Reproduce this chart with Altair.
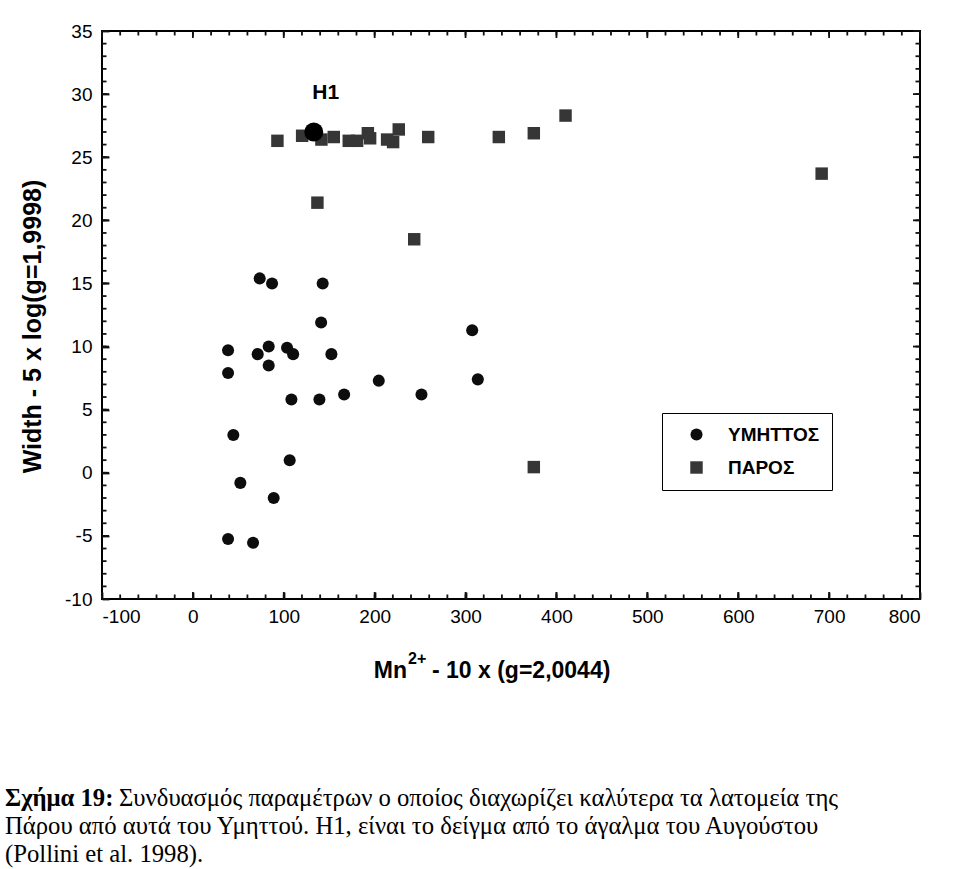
import altair as alt
import pandas as pd

# ---- data ----
ymittos_x = [73.5, 87.1, 142.8, 141.1, 307.3, 38.7, 71.3, 83.4, 103.6, 110.3, 152.4, 83.4, 38.7,
             204.5, 313.5, 108.4, 139.2, 166.4, 251.5, 44.5, 106.5, 52.2, 88.9, 38.7, 66.2]
ymittos_y = [15.4, 15.0, 15.0, 11.9, 11.3, 9.7, 9.4, 10.0, 9.9, 9.4, 9.4, 8.5, 7.9,
             7.3, 7.4, 5.8, 5.8, 6.2, 6.2, 3.0, 1.0, -0.8, -2.0, -5.25, -5.55]
paros_x = [93.0, 120.2, 141.4, 155.0, 171.5, 180.7, 192.5, 195.0, 213.7, 220.3, 226.5, 258.9,
           137.0, 243.5, 336.6, 375.1, 410.0, 691.8, 375.1]
paros_y = [26.3, 26.7, 26.4, 26.6, 26.3, 26.3, 26.9, 26.5, 26.4, 26.2, 27.2, 26.6,
           21.4, 18.5, 26.6, 26.9, 28.3, 23.7, 0.45]
h1_x = [133.0]
h1_y = [27.0]
h1_label = ["H1"]

groups = ["ΥΜΗΤΤΟΣ", "ΠΑΡΟΣ"]

x_major = [-100, 0, 100, 200, 300, 400, 500, 600, 700, 800]
x_minor = list(range(-100, 801, 20))
y_major = [-10, -5, 0, 5, 10, 15, 20, 25, 30, 35]
y_minor = list(range(-10, 36, 1))

x_title_base = ["Mn"]
x_title_sup = ["2+"]
x_title_rest = ["- 10 x (g=2,0044)"]
y_title = "Width - 5 x log(g=1,9998)"

caption_bold = ["Σχήμα 19:"]
caption_line1 = ["Συνδυασμός παραμέτρων ο οποίος διαχωρίζει καλύτερα τα λατομεία της"]
caption_line2 = ["Πάρου από αυτά του Υμηττού. Η1, είναι το δείγμα από το άγαλμα του Αυγούστου"]
caption_line3 = ["(Pollini et al. 1998)."]

# ---- tables ----
pts = pd.DataFrame({
    "x": ymittos_x + paros_x,
    "y": ymittos_y + paros_y,
    "group": [groups[0]] * len(ymittos_x) + [groups[1]] * len(paros_x),
})
h1 = pd.DataFrame({"x": h1_x, "y": h1_y, "label": h1_label})
xmaj = pd.DataFrame({"x": x_major})
xmin = pd.DataFrame({"x": x_minor})
ymaj = pd.DataFrame({"y": y_major})
ymin = pd.DataFrame({"y": y_minor})

W, H = 818, 568
SANS = "Liberation Sans"
SERIF = "Liberation Serif"
MAJ, MIN = 7, 4.5

xs = alt.Scale(domain=[-100, 800], nice=False, zero=False)
ys = alt.Scale(domain=[-10, 35], nice=False, zero=False)
fix_minus = "replace(datum.label, '\u2212', '-')"


def xticks(df, top, length):
    y0 = 0 if top else H
    y1 = length if top else H - length
    return alt.Chart(df).mark_rule(color="#111111", strokeWidth=1.8).encode(
        x=alt.X("x:Q", scale=xs), y=alt.value(y0), y2=alt.value(y1))


def yticks(df, right, length):
    x0 = W if right else 0
    x1 = W - length if right else length
    return alt.Chart(df).mark_rule(color="#111111", strokeWidth=1.8).encode(
        y=alt.Y("y:Q", scale=ys), x=alt.value(x0), x2=alt.value(x1))


ticks = [
    xticks(xmaj, False, MAJ), xticks(xmin, False, MIN),
    xticks(xmaj, True, MAJ), xticks(xmin, True, MIN),
    yticks(ymaj, False, MAJ), yticks(ymin, False, MIN),
    yticks(ymaj, True, MAJ), yticks(ymin, True, MIN),
]

# main axes: labels outside, major ticks drawn inward (axis shifted inside by the tick length)
points = alt.Chart(pts).mark_point(filled=True, opacity=1).encode(
    x=alt.X("x:Q", scale=xs, axis=alt.Axis(
        orient="bottom", values=x_major, ticks=True, tickSize=MAJ, tickWidth=1.8,
        tickColor="#111111", offset=-MAJ, domain=False, grid=False,
        labelFont=SANS, labelFontSize=19, labelColor="#000", labelPadding=8,
        labelExpr=fix_minus, title=None)),
    y=alt.Y("y:Q", scale=ys, axis=alt.Axis(
        orient="left", values=y_major, ticks=True, tickSize=MAJ, tickWidth=1.8,
        tickColor="#111111", offset=-MAJ, domain=False, grid=False,
        labelFont=SANS, labelFontSize=19, labelColor="#000", labelPadding=10,
        labelExpr=fix_minus,
        title=y_title, titleFont=SANS, titleFontSize=25, titleFontWeight="bold",
        titleColor="#000", titleAngle=-90, titleX=-70 - MAJ, titleY=295,
        titleBaseline="middle", titleAlign="center")),
    shape=alt.Shape("group:N", scale=alt.Scale(domain=groups, range=["circle", "square"]),
                    legend=alt.Legend(title=None)),
    color=alt.Color("group:N", scale=alt.Scale(domain=groups, range=["#0d0d0d", "#363636"]),
                    legend=alt.Legend(title=None)),
    size=alt.Size("group:N", scale=alt.Scale(domain=groups, range=[145, 155]), legend=None),
)

h1_pt = alt.Chart(h1).mark_circle(size=360, color="#000", opacity=1).encode(
    x=alt.X("x:Q", scale=xs), y=alt.Y("y:Q", scale=ys))
h1_txt = alt.Chart(h1).mark_text(font=SANS, fontSize=21, fontWeight="bold", color="#000",
                                 dx=12, dy=-39, align="center", baseline="middle").encode(
    x=alt.X("x:Q", scale=xs), y=alt.Y("y:Q", scale=ys), text="label:N")


def txt(lines, xpx, ypx, font, size, weight, align="left"):
    return alt.Chart(pd.DataFrame({"t": lines})).mark_text(
        font=font, fontSize=size, fontWeight=weight, color="#000",
        align=align, baseline="alphabetic").encode(
        text="t:N", x=alt.value(xpx), y=alt.value(ypx))


# x-axis title with a real superscript
xt0 = txt(x_title_base, 407 - 102, 678 - 31, SANS, 23, "bold", "right")
xt1 = txt(x_title_sup, 408 - 102, 664 - 31, SANS, 16, "bold")
xt2 = txt(x_title_rest, 432 - 102, 678 - 31, SANS, 23, "bold")

CAP = 24.7
c0 = txt(caption_bold, 5 - 102, 806 - 31, SERIF, CAP, "bold")
c1 = txt(caption_line1, 119 - 102, 806 - 31, SERIF, CAP, "normal")
c2 = txt(caption_line2, 5 - 102, 834 - 31, SERIF, CAP, "normal")
c3 = txt(caption_line3, 5 - 102, 862 - 31, SERIF, CAP, "normal")

chart = alt.layer(points, *ticks, h1_pt, h1_txt, xt0, xt1, xt2, c0, c1, c2, c3).properties(
    width=W, height=H,
    autosize=alt.AutoSizeParams(type="none"),
    padding={"left": 102, "top": 31, "right": 960 - 102 - W, "bottom": 869 - 31 - H},
    background="white",
).configure_view(
    stroke="#000", strokeWidth=2
).configure_legend(
    orient="none", legendX=560, legendY=382,
    strokeColor="#000", padding=12, symbolOffset=13, rowPadding=13,
    labelFont=SANS, labelFontSize=19, labelFontWeight="bold", labelColor="#000",
    labelOffset=22, symbolSize=130, symbolStrokeWidth=0,
)

chart.save("out.html", embed_options={"renderer": "svg", "actions": False})
